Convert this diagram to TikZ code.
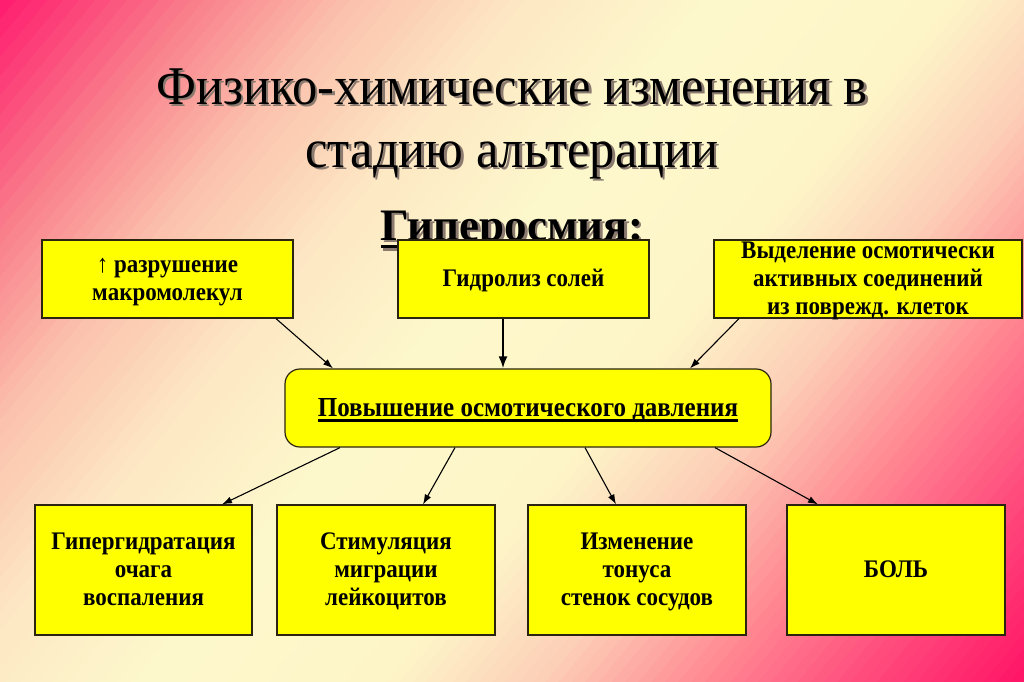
\documentclass[tikz,border=0pt]{standalone}
\usepackage{graphicx}
\usepackage{fontspec}
\setmainfont{Liberation Serif}
\usetikzlibrary{arrows.meta,calc}
\definecolor{g0}{HTML}{FF1A6E}
\definecolor{g1}{HTML}{F97C8A}
\definecolor{g2}{HTML}{FBC0AC}
\definecolor{g3}{HTML}{FDE8C4}
\definecolor{g4}{HTML}{FDF8CC}
\definecolor{g5}{HTML}{FDF5C8}
\definecolor{g6}{HTML}{FCCDB6}
\definecolor{g7}{HTML}{FF8892}
\definecolor{g8}{HTML}{FF4A7C}
\definecolor{g9}{HTML}{FF1466}
\definecolor{boxy}{HTML}{FFFF00}
\definecolor{edge}{HTML}{2B2410}
\definecolor{shad}{HTML}{8A7A70}
% background strips: iso-lines 1.2x - Y = c, c from 0 to 1909.8
\newcommand\bgseg[4]{%
  \foreach \k in {0,...,11}{%
    \pgfmathsetmacro\ca{1909.8*(#1+(#2-#1)*\k/12)}%
    \pgfmathsetmacro\cb{1909.8*(#1+(#2-#1)*(\k+1)/12)+1.5}%
    \pgfmathtruncatemacro\pp{round(100*(\k+0.5)/12)}%
    \fill[color=#4!\pp!#3] ({(\ca+700)/1.2},700) -- ({(\cb+700)/1.2},700) -- ({(\cb-1400)/1.2},-1400) -- ({(\ca-1400)/1.2},-1400) -- cycle;
  }}
\newcommand\myul[3]{\leavevmode\setbox0\hbox{#3}\rlap{\rule[#1]{\wd0}{#2}}\box0}
\newcommand\shtext[1]{\leavevmode\rlap{\hspace{2.5pt}\raisebox{-2.5pt}{\textcolor{shad}{#1}}}#1}
\newcommand\bt[1]{\raisebox{-8.5pt}[0pt][0pt]{\scalebox{1}[1.1]{\begin{tabular}{@{}c@{}}#1\end{tabular}}}}
\begin{document}
\begin{tikzpicture}[x=1pt,y=1pt,
  box/.style={draw=edge, line width=1.2pt, fill=boxy, inner sep=0pt,
    font=\bfseries\fontsize{23}{25.5}\selectfont},
  arr/.style={-{Latex[length=10pt,width=7pt]}, line width=1.1pt},
  thickarr/.style={-{Latex[length=12pt,width=9pt]}, line width=2.2pt},
  ttl/.style={font=\fontsize{50.5}{60}\selectfont, anchor=base, inner sep=0pt},
  hyps/.style={font=\bfseries\fontsize{45}{50}\selectfont, anchor=base, inner sep=0pt}]
\useasboundingbox (0,0) rectangle (1024,-681);
\begin{scope}
\clip (0,0) rectangle (1024,-681);
\bgseg{0}{0.12}{g0}{g1}
\bgseg{0.12}{0.22}{g1}{g2}
\bgseg{0.22}{0.33}{g2}{g3}
\bgseg{0.33}{0.45}{g3}{g4}
\bgseg{0.45}{0.60}{g4}{g5}
\bgseg{0.60}{0.70}{g5}{g6}
\bgseg{0.70}{0.80}{g6}{g7}
\bgseg{0.80}{0.90}{g7}{g8}
\bgseg{0.90}{1.0}{g8}{g9}
\end{scope}
% title
\node[ttl] (t1) at (512,-104) {\scalebox{1}[1.08]{\shtext{Физико-химические изменения в}}};
\node[ttl] (t2) at (512,-167) {\scalebox{1}[1.08]{\shtext{стадию альтерации}}};
\node[hyps] (hyp) at (512,-240) {\shtext{\myul{-8pt}{3.5pt}{Гиперосмия:}}};
% top boxes
\node[box, minimum width=251pt, minimum height=78pt] (tl) at (167.5,-279) {\bt{↑ разрушение\\макромолекул}};
\node[box, minimum width=251pt, minimum height=78pt] (tm) at (523.5,-279) {\bt{Гидролиз солей}};
\node[box, minimum width=308pt, minimum height=78pt] (tr) at (868,-279) {\bt{Выделение осмотически\\активных соединений\\из поврежд. клеток}};
% middle
\node[box, rounded corners=15pt, minimum width=486pt, minimum height=78pt,
  font=\bfseries\fontsize{25}{30}\selectfont] (mid) at (528,-408)
  {\raisebox{-8pt}[0pt][0pt]{\scalebox{1}[1.1]{\myul{-5pt}{2pt}{Повышение осмотического давления}}}};
% bottom boxes
\node[box, minimum width=217pt, minimum height=130pt] (b1) at (143.5,-570) {\bt{Гипергидратация\\очага\\воспаления}};
\node[box, minimum width=218pt, minimum height=130pt] (b2) at (386,-570) {\bt{Стимуляция\\миграции\\лейкоцитов}};
\node[box, minimum width=218pt, minimum height=130pt] (b3) at (637,-570) {\bt{Изменение\\тонуса\\стенок сосудов}};
\node[box, minimum width=218pt, minimum height=130pt] (b4) at (896,-570) {\bt{БОЛЬ}};
% arrows
\draw[arr] ([xshift=108.5pt]tl.south) -- ([xshift=-195pt]mid.north);
\draw[thickarr] ([xshift=-20.5pt]tm.south) -- ([xshift=-25pt]mid.north);
\draw[arr] ([xshift=-129pt]tr.south) -- ([xshift=162pt]mid.north);
\draw[arr] ([xshift=-188pt]mid.south) -- ([xshift=78.5pt]b1.north);
\draw[arr] ([xshift=-73pt]mid.south) -- ([xshift=37pt]b2.north);
\draw[arr] ([xshift=57pt]mid.south) -- ([xshift=-21pt]b3.north);
\draw[arr] ([xshift=187pt]mid.south) -- ([xshift=-78pt]b4.north);
\end{tikzpicture}
\end{document}
